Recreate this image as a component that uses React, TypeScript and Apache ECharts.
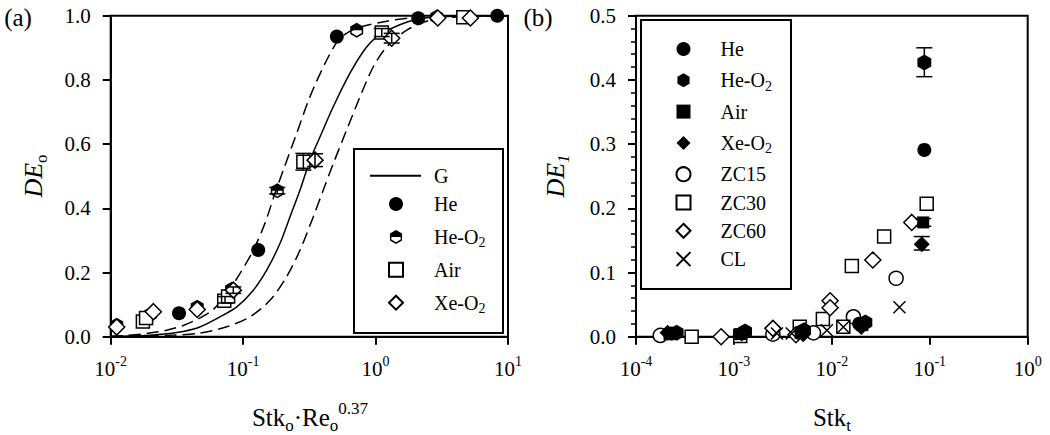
import React, { useEffect, useRef } from 'react';
import * as echarts from 'echarts';

const FONT = 'Liberation Serif';

// ---------------- Panel (a) ----------------
const curveG: number[][] = [
  [0.01, 0.001], [0.0187, 0.004], [0.0265, 0.009], [0.0353, 0.016], [0.047, 0.03],
  [0.067, 0.062], [0.0895, 0.093], [0.1195, 0.145], [0.151, 0.208], [0.19, 0.291],
  [0.226, 0.374], [0.269, 0.457], [0.32, 0.55], [0.381, 0.623], [0.48, 0.717],
  [0.641, 0.821], [0.859, 0.903], [1.114, 0.945], [2.05, 0.989], [4, 0.998], [10, 1.0],
];
const curveUpper: number[][] = [
  [0.01, 0.001], [0.0125, 0.003], [0.0187, 0.01], [0.0265, 0.02], [0.0353, 0.035],
  [0.047, 0.058], [0.0596, 0.085], [0.0752, 0.135], [0.0948, 0.197], [0.1195, 0.27],
  [0.146, 0.353], [0.174, 0.447], [0.201, 0.519], [0.254, 0.634], [0.32, 0.748],
  [0.428, 0.862], [0.54, 0.93], [0.721, 0.961], [1.216, 0.983], [2.05, 0.995], [4, 0.999], [10, 1.0],
];
const curveLower: number[][] = [
  [0.01, 0.001], [0.02, 0.002], [0.03, 0.005], [0.047, 0.011], [0.0752, 0.031],
  [0.1128, 0.062], [0.16, 0.114], [0.213, 0.187], [0.269, 0.27], [0.339, 0.374],
  [0.403, 0.457], [0.48, 0.54], [0.605, 0.644], [0.764, 0.748], [0.962, 0.841],
  [1.216, 0.903], [1.72, 0.955], [2.58, 0.986], [5, 0.998], [10, 1.0],
];
const heA: number[][] = [[0.0328, 0.073], [0.13, 0.27], [0.51, 0.935], [2.1, 0.992], [8.3, 1.0]];
const heO2A: number[][] = [[0.0111, 0.036], [0.02, 0.07], [0.045, 0.092], [0.082, 0.148], [0.181, 0.455], [0.72, 0.955], [2.9, 0.996]];
const airA: number[][] = [[0.0175, 0.047], [0.0185, 0.058], [0.072, 0.112], [0.077, 0.125], [0.285, 0.545], [1.114, 0.948], [4.6, 0.995]];
const xeO2A: number[][] = [[0.0111, 0.03], [0.021, 0.078], [0.045, 0.085], [0.0843, 0.145], [0.349, 0.55], [1.324, 0.93], [2.95, 0.993], [5.2, 0.993]];
const errA: number[][] = [
  [0.181, 0.445, 0.465], [0.285, 0.519, 0.571], [0.349, 0.53, 0.57],
  [1.114, 0.935, 0.96], [1.324, 0.915, 0.945], [0.073, 0.105, 0.125], [0.0843, 0.135, 0.155],
];

// ---------------- Panel (b) ----------------
const heB: number[][] = [[0.00023, 0.005], [0.00125, 0.006], [0.0049, 0.008], [0.019, 0.02], [0.088, 0.291]];
const heO2B: number[][] = [[0.00026, 0.006], [0.0013, 0.008], [0.0052, 0.01], [0.022, 0.022], [0.088, 0.427]];
const airB: number[][] = [[0.00022, 0.004], [0.00115, 0.004], [0.0048, 0.006], [0.0205, 0.018], [0.0857, 0.178]];
const xeO2B: number[][] = [[0.00021, 0.006], [0.0012, 0.005], [0.0051, 0.004], [0.02, 0.015], [0.0828, 0.144]];
const zc15B: number[][] = [[0.000177, 0.002], [0.0025, 0.004], [0.0065, 0.006], [0.0166, 0.031], [0.0453, 0.091]];
const zc30B: number[][] = [[0.00037, 0.0], [0.00116, 0.001], [0.0047, 0.0156], [0.0081, 0.0276], [0.0131, 0.0156], [0.016, 0.11], [0.0342, 0.156], [0.093, 0.207]];
const zc60B: number[][] = [[0.00074, 0.0], [0.0025, 0.013], [0.0043, 0.003], [0.0096, 0.056], [0.0096, 0.045], [0.0262, 0.1195], [0.0655, 0.178]];
const clB: number[][] = [[0.00275, 0.005], [0.0039, 0.005], [0.0089, 0.01], [0.0131, 0.015], [0.049, 0.0458]];
const errB: number[][] = [[0.088, 0.405, 0.45], [0.0828, 0.135, 0.156], [0.0857, 0.172, 0.184]];

const legendLine = ['G'];
const legendA = ['He', 'He-O2', 'Air', 'Xe-O2'];
const legendB = ['He (b)', 'He-O2 (b)', 'Air (b)', 'Xe-O2 (b)', 'ZC15', 'ZC30', 'ZC60', 'CL'];

const HALF_HEX = 'path://M50,0 L93.3,25 L93.3,50 L6.7,50 L6.7,25 Z M6.7,50 L93.3,50 L93.3,75 L50,100 L6.7,75 Z M16.7,50 L16.7,69.2 L50,88.5 L83.3,69.2 L83.3,50 Z';
const HEX = 'path://M50,0 L93.3,25 L93.3,75 L50,100 L6.7,75 L6.7,25 Z';
const CROSS = 'path://M0,0 L100,100 M100,0 L0,100';

const openStyle = { color: '#fff', borderColor: '#000', borderWidth: 1.5, opacity: 1 };
const fillStyle = { color: '#000', borderWidth: 0, opacity: 1 };

function legendLabel(name: string) {
  const base = name.replace(' (b)', '');
  if (base.endsWith('-O2')) return `{n|${base.slice(0, -1)}}{sub|2}`;
  return `{n|${base}}`;
}

function errRender(params: any, api: any) {
  const x = api.value(0);
  const p1 = api.coord([x, api.value(2)]);
  const p2 = api.coord([x, api.value(1)]);
  const w = 8;
  const st = { stroke: '#000', lineWidth: 1.5 };
  return {
    type: 'group',
    children: [
      { type: 'line', shape: { x1: p1[0], y1: p1[1], x2: p2[0], y2: p2[1] }, style: st },
      { type: 'line', shape: { x1: p1[0] - w, y1: p1[1], x2: p1[0] + w, y2: p1[1] }, style: st },
      { type: 'line', shape: { x1: p2[0] - w, y1: p2[1], x2: p2[0] + w, y2: p2[1] }, style: st },
    ],
  };
}

const tickRich = {
  b: { fontSize: 21, fontFamily: FONT, color: '#000', lineHeight: 22 },
  s: { fontSize: 14, fontFamily: FONT, color: '#000', lineHeight: 8, padding: [0, 0, 14, 0] },
};

function logAxis(gridIndex: number, min: number, max: number) {
  return {
    type: 'log', logBase: 10, gridIndex, min, max,
    axisLine: { show: true, onZero: false, lineStyle: { color: '#000', width: 2 } },
    axisTick: { show: true, inside: false, length: 8, lineStyle: { color: '#000', width: 2 } },
    minorTick: { show: false },
    splitLine: { show: false },
    axisLabel: {
      margin: 21, color: '#000', fontFamily: FONT, fontSize: 21,
      formatter: (v: number) => `{b|10}{s|${Math.round(Math.log10(v))}}`,
      rich: tickRich,
    },
  };
}

function valAxis(gridIndex: number, max: number, interval: number, minor: boolean) {
  return {
    type: 'value', gridIndex, min: 0, max, interval,
    axisLine: { show: true, lineStyle: { color: '#000', width: 2 } },
    axisTick: { show: true, inside: false, length: 8, lineStyle: { color: '#000', width: 2 } },
    minorTick: { show: minor, splitNumber: 5, length: 5, lineStyle: { color: '#000', width: 1.5 } },
    splitLine: { show: false },
    minorSplitLine: { show: false },
    axisLabel: {
      margin: 20, color: '#000', fontFamily: FONT, fontSize: 21,
      formatter: (v: number) => v.toFixed(1),
    },
  };
}

function scatter(name: string, data: number[][], idx: number, symbol: string, size: number, style: any, z = 3) {
  return {
    type: 'scatter', name, data, xAxisIndex: idx, yAxisIndex: idx,
    symbol, symbolSize: size, symbolKeepAspect: true, itemStyle: style, z, silent: true,
    emphasis: { disabled: true },
  };
}

function curve(name: string, data: number[][], dashed: boolean) {
  return {
    type: 'line', name, data, xAxisIndex: 0, yAxisIndex: 0, symbol: 'none', showSymbol: false,
    smooth: 0.3, silent: true, z: 2,
    itemStyle: { color: 'rgba(0,0,0,0)' },
    lineStyle: { color: '#000', width: 1.5, type: dashed ? [12, 6] : 'solid' },
  };
}

const subRich = (sub: number, shift: number, italic = false) => ({
  fontSize: sub, fontFamily: FONT, fill: '#000', lineHeight: 8,
  fontStyle: italic ? 'italic' : 'normal',
  padding: shift > 0 ? [shift * 2, 0, 0, 0] : [0, 0, -shift * 2, 0],
});

const legendText = (padLeft: number) => ({
  color: '#000', fontFamily: FONT, fontSize: 20,
  rich: {
    n: { fontSize: 20, fontFamily: FONT, color: '#000', lineHeight: 22, padding: [0, 0, 0, padLeft] },
    sub: { fontSize: 14, fontFamily: FONT, color: '#000', lineHeight: 8, padding: [12, 0, 0, 0] },
  },
});

export default function App() {
  const ref = useRef<HTMLDivElement>(null);
  useEffect(() => {
    if (!ref.current) return;
    const chart = echarts.init(ref.current, undefined, { renderer: 'svg' });
    const option: any = {
      animation: false,
      grid: [
        { left: 110.7, top: 15.7, width: 397.3, height: 321, show: true, borderColor: '#000', borderWidth: 2, containLabel: false },
        { left: 636, top: 15.7, width: 391.7, height: 321, show: true, borderColor: '#000', borderWidth: 2, containLabel: false },
      ],
      xAxis: [logAxis(0, 0.01, 10), logAxis(1, 0.0001, 1)],
      yAxis: [valAxis(0, 1, 0.2, false), valAxis(1, 0.5, 0.1, true)],
      legend: [
        {
          data: legendLine, orient: 'vertical', left: 369, top: 165.7, padding: 0,
          itemWidth: 51, itemHeight: 14, itemGap: 10, selectedMode: false,
          formatter: legendLabel, textStyle: legendText(8),
        },
        {
          data: legendA, orient: 'vertical', left: 388, top: 194, padding: 0,
          itemWidth: 14, itemHeight: 14, itemGap: 9.9, selectedMode: false, symbolKeepAspect: true,
          formatter: legendLabel, textStyle: legendText(26),
        },
        {
          data: legendB, orient: 'vertical', left: 674, top: 39, padding: 0,
          itemWidth: 14, itemHeight: 14, itemGap: 8.3, selectedMode: false, symbolKeepAspect: true,
          formatter: legendLabel, textStyle: legendText(25),
        },
      ],
      series: [
        curve('G', curveG, false),
        curve('upper', curveUpper, true),
        curve('lower', curveLower, true),
        scatter('He', heA, 0, 'circle', 14, fillStyle),
        scatter('He-O2', heO2A, 0, HALF_HEX, 15, fillStyle),
        scatter('Air', airA, 0, 'rect', 13, openStyle),
        scatter('Xe-O2', xeO2A, 0, 'diamond', 16, openStyle),
        { type: 'custom', name: 'errA', data: errA, xAxisIndex: 0, yAxisIndex: 0, renderItem: errRender, z: 6, silent: true, encode: { x: 0, y: [1, 2] } },

        scatter('ZC15', zc15B, 1, 'circle', 14, openStyle),
        scatter('ZC30', zc30B, 1, 'rect', 13, openStyle),
        scatter('ZC60', zc60B, 1, 'diamond', 16, openStyle),
        scatter('CL', clB, 1, CROSS, 12, { color: 'none', borderColor: '#000', borderWidth: 1.5, opacity: 1 }),
        scatter('He (b)', heB, 1, 'circle', 14, fillStyle, 4),
        scatter('He-O2 (b)', heO2B, 1, HEX, 16, fillStyle, 4),
        scatter('Air (b)', airB, 1, 'rect', 12, fillStyle, 4),
        scatter('Xe-O2 (b)', xeO2B, 1, 'diamond', 16, fillStyle, 4),
        { type: 'custom', name: 'errB', data: errB, xAxisIndex: 1, yAxisIndex: 1, renderItem: errRender, z: 6, silent: true, encode: { x: 0, y: [1, 2] } },
      ],
      graphic: [
        { type: 'rect', shape: { x: 354, y: 149, width: 149, height: 184 }, style: { fill: 'none', stroke: '#000', lineWidth: 2 }, z: 10 },
        { type: 'rect', shape: { x: 641, y: 20, width: 150, height: 269 }, style: { fill: 'none', stroke: '#000', lineWidth: 2 }, z: 10 },
        { type: 'text', x: 18, y: 17, style: { text: '(a)', fontFamily: FONT, fontSize: 25, fill: '#000', align: 'center', verticalAlign: 'middle' } },
        { type: 'text', x: 538, y: 17, style: { text: '(b)', fontFamily: FONT, fontSize: 25, fill: '#000', align: 'center', verticalAlign: 'middle' } },
        {
          type: 'text', x: 33, y: 176, rotation: Math.PI / 2,
          style: {
            text: '{i|DE}{sb|o}', align: 'center', verticalAlign: 'middle', fill: '#000',
            rich: {
              i: { fontSize: 26, fontFamily: FONT, fontStyle: 'italic', fill: '#000', lineHeight: 26 },
              sb: subRich(17, 8),
            },
          },
        },
        {
          type: 'text', x: 555, y: 176, rotation: Math.PI / 2,
          style: {
            text: '{i|DE}{sb|1}', align: 'center', verticalAlign: 'middle', fill: '#000',
            rich: {
              i: { fontSize: 26, fontFamily: FONT, fontStyle: 'italic', fill: '#000', lineHeight: 26 },
              sb: subRich(17, 8, true),
            },
          },
        },
        {
          type: 'text', x: 310, y: 417,
          style: {
            text: '{m|Stk}{sb|o}{m|·Re}{sb|o}{sp|0.37}', align: 'center', verticalAlign: 'middle', fill: '#000',
            rich: {
              m: { fontSize: 25, fontFamily: FONT, fill: '#000', lineHeight: 26 },
              sb: subRich(17, 8),
              sp: subRich(17, -9),
            },
          },
        },
        {
          type: 'text', x: 832, y: 417,
          style: {
            text: '{m|Stk}{sb|t}', align: 'center', verticalAlign: 'middle', fill: '#000',
            rich: {
              m: { fontSize: 25, fontFamily: FONT, fill: '#000', lineHeight: 26 },
              sb: subRich(17, 8),
            },
          },
        },
      ],
    };
    chart.setOption(option);
    return () => chart.dispose();
  }, []);
  return <div ref={ref} style={{ position: 'absolute', left: 0, top: 0, width: 1050, height: 435 }} />;
}
